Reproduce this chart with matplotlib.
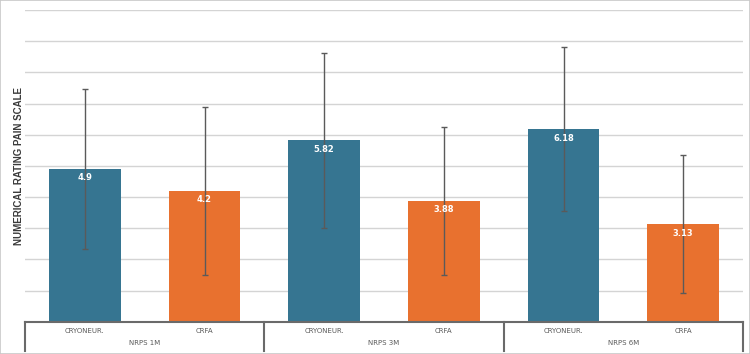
import matplotlib
matplotlib.use("Agg")
import matplotlib.pyplot as plt
import matplotlib.transforms as mtransforms
from matplotlib.patches import Rectangle

# data
groups = ["NRPS 1M", "NRPS 3M", "NRPS 6M"]
treatments = ["CRYONEUR.", "CRFA"]
cryo_means = [4.9, 5.82, 6.18]
crfa_means = [4.2, 3.88, 3.13]
cryo_sd = [2.57, 2.80, 2.63]
crfa_sd = [2.69, 2.38, 2.21]

BLUE = "#367591"
ORANGE = "#E8712F"
GRID = "#d4d4d4"
DARK = "#5a5a5a"

fig = plt.figure(figsize=(7.5, 3.54), dpi=100)
fig.patches.append(Rectangle((0, 0), 1, 1, transform=fig.transFigure,
                             fill=False, edgecolor="#c8c8c8", lw=1.2))
ax = fig.add_axes([25 / 750, (354 - 321.7) / 354, 718 / 750, 311.7 / 354])

means, sds, colors = [], [], []
for c, f in zip(cryo_means, crfa_means):
    means += [c, f]
    colors += [BLUE, ORANGE]
for c, f in zip(cryo_sd, crfa_sd):
    sds += [c, f]
xs = list(range(len(means)))

ax.bar(xs, means, width=0.6, color=colors, zorder=2)
ax.errorbar(xs, means, yerr=sds, fmt="none", ecolor=DARK, elinewidth=1,
            capsize=2.5, capthick=1, zorder=3)
for x, m in zip(xs, means):
    ax.annotate(f"{m:g}", (x, m), xytext=(0, -6.5), textcoords="offset points",
                ha="center", va="center", color="white", fontsize=6,
                fontweight="bold", zorder=4)

ax.set_xlim(-0.5, len(means) - 0.5)
ax.set_ylim(0, 10)
ax.set_yticks(range(1, 11))
ax.yaxis.grid(True, color=GRID, lw=1, zorder=0)
ax.set_axisbelow(True)
ax.tick_params(left=False, bottom=False, labelleft=False, labelbottom=False)
for s in ["left", "right", "top"]:
    ax.spines[s].set_visible(False)
ax.spines["bottom"].set_color("#6a6a6a")
ax.spines["bottom"].set_linewidth(1.5)

ax.set_ylabel("NUMERICAL RATING PAIN SCALE", fontsize=7, fontweight="bold",
              color="#3a3a3a", family="Liberation Sans")
ax.yaxis.set_label_coords(-0.002, 0.5)

# two-level category axis
trans = mtransforms.blended_transform_factory(ax.transData, ax.transAxes)
for b in [-0.5, 1.5, 3.5, 5.5]:
    ax.plot([b, b], [0, -0.093], transform=trans, color="#6a6a6a", lw=1.5,
            clip_on=False)
for x, name in zip(xs, treatments * len(groups)):
    ax.text(x, -0.030, name, transform=trans, ha="center", va="center",
            fontsize=5, color=DARK)
for i, g in enumerate(groups):
    ax.text(2 * i + 0.5, -0.068, g, transform=trans, ha="center", va="center",
            fontsize=5, color=DARK)

fig.savefig("out.png", dpi=100)
